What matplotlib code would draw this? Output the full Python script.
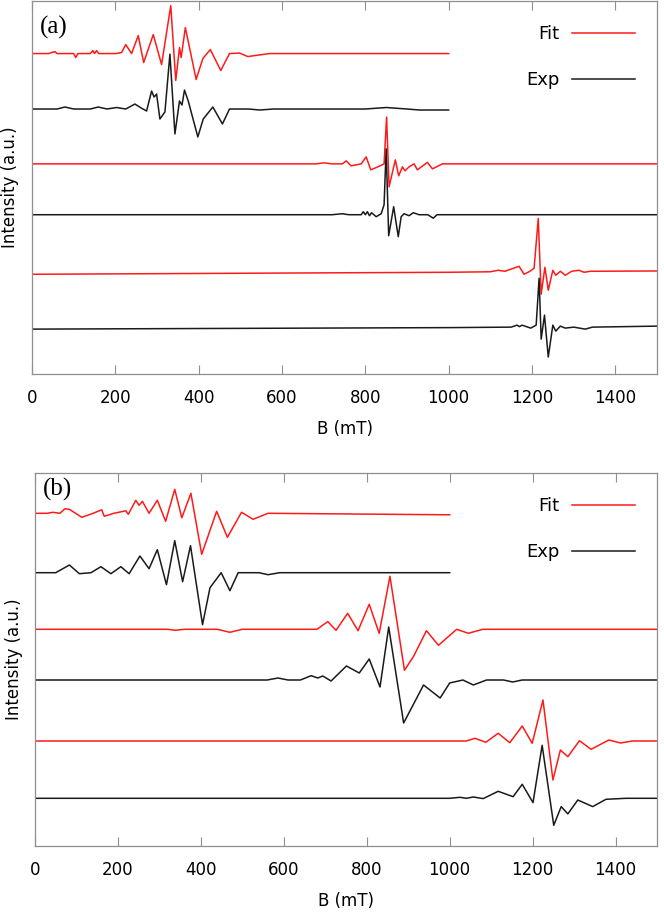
import numpy as np
import matplotlib
matplotlib.use('Agg')
import matplotlib.pyplot as plt

# ---- data (field in mT, signal in arbitrary units) ----
# panel (a)
a_fit1_x = [0, 40, 55, 60, 100, 105, 110, 140, 146, 150, 155, 160, 200, 215, 225, 239, 255, 268, 291, 311,
            333, 345, 354, 358, 368, 394, 410, 428, 453, 474, 498, 518, 570, 1000]
a_fit1_y = [0, 0, 2, 0, 0, -4, 0, 0, 3, 0, 3, 0, 0, 1, 9, 0, 18, -9, 19, -11,
            48, -27, 6, -4, 26, -26, -5, 4, -17, 0, 0.5, -3, 0, 0]
a_exp1_x = [0, 60, 79, 100, 140, 159, 180, 203, 225, 247, 262, 275, 287, 293, 299, 307, 319, 331, 343, 354,
            360, 366, 375, 398, 411, 434, 457, 474, 520, 546, 580, 800, 850, 900, 930, 1000]
a_exp1_y = [0, 0, 2, 0, 0, 2, 0, 1.5, 0, 5, 1, -2, 18, 12, 15, -10, -3, 55, -25, 8,
            4, 19, 8, -28, -10, 2, -15, 0, 0, -1, 0, 0, 1.5, 0, -1, -1]
a_fit2_x = [0, 680, 702, 720, 745, 754, 766, 790, 802, 813, 830, 845, 851, 857, 872, 880, 889, 895, 905,
            917, 925, 949, 961, 985, 1500]
a_fit2_y = [0, 0, 1, 0, 0, 3, -2, 0, 7, -6, -3, 0, 47, -23, 4, -12, -3, -7, -3,
            0, -6, 1.5, -5, 0, 0]
a_exp2_x = [0, 720, 745, 760, 790, 795, 800, 805, 810, 815, 826, 838, 845, 850, 856, 868, 879, 886, 893,
            905, 915, 929, 950, 963, 972, 1500]
a_exp2_y = [0, 0, 1, 0, 0, 3, 0, 3, -1, 2, -2, 1, 10, 66, -21, 8, -22, -2, 1,
            -1, 2, 0, 0, -3.5, 0, 0]
a_fit3_x = [0, 1000, 1100, 1119, 1135, 1169, 1181, 1195, 1205, 1215, 1222, 1231, 1239, 1250, 1257, 1268,
            1280, 1295, 1313, 1325, 1340, 1500]
a_fit3_y = [-3, -1, -0.5, 1, 0, 5, -3, 0, 3, 53, -23, 4, -19, 1, -4, 0,
            -4, 0, 1, -1, 0, 0.3]
a_exp3_x = [0, 1000, 1150, 1164, 1170, 1176, 1197, 1210, 1217, 1222, 1230, 1239, 1250, 1257, 1268, 1280,
            1300, 1328, 1345, 1500]
a_exp3_y = [-2, -0.5, 0, 2, 0.5, 2, -1, 2, 49, -12, 12, -30, 2, -4, 1, -1,
            0, -2, 0, 1]

# panel (b)
b_fit1_x = [0, 30, 43, 60, 72, 83, 113, 140, 161, 167, 190, 219, 225, 243, 251, 259, 275, 295, 315, 337,
            354, 376, 402, 438, 464, 498, 526, 562, 1000]
b_fit1_y = [0, 0, 1, 0, 4.5, 4, -4, 0, 3.5, -3, 0, 2.5, -1, 13, 8, 12, 0, 13, -8, 24,
            -4.5, 20, -41, 2, -24, 1, -6, 0, -1.5]
b_exp1_x = [0, 50, 83, 107, 135, 159, 183, 207, 227, 253, 275, 295, 317, 337, 356, 375, 404, 422, 449,
            470, 490, 540, 562, 590, 1000]
b_exp1_y = [0, 0, 7.7, -1, 0, 6, -1, 6, -1, 16.7, 4, 23, -12, 32, -9, 27, -52, -15, 0,
            -18, 0, 0, -2, 0, 0]
b_fit2_x = [0, 320, 338, 360, 440, 470, 500, 680, 706, 726, 754, 779, 806, 830, 856, 891, 913, 944, 973,
            1017, 1045, 1080, 1500]
b_fit2_y = [0, 0, -1, 0, 0, -3, 0, 0, 7.7, -1, 16, -1.4, 25, -4, 53, -41, -27, -1.4, -16,
            0, -4, 0, 0]
b_exp2_x = [0, 560, 586, 610, 640, 666, 682, 694, 714, 751, 782, 806, 832, 853, 889, 937, 977, 1000,
            1032, 1057, 1089, 1130, 1152, 1175, 1500]
b_exp2_y = [0, 0, 2, 0, 0, 4.3, 2, 4, -1, 14, 7, 21, -7, 53, -43, -5, -18, -3,
            0, -5, 0, 0, -2, 0, 0]
b_fit3_x = [0, 1040, 1061, 1087, 1117, 1145, 1175, 1199, 1225, 1249, 1267, 1285, 1313, 1341, 1384, 1412,
            1440, 1500]
b_fit3_y = [0, 0, 2.7, -1.3, 7.7, -1.7, 15, -2.3, 41, -39, -9, -15.7, 0.3, -8.3, 1, -2,
            0, 0]
b_exp3_x = [0, 1000, 1025, 1040, 1057, 1081, 1117, 1153, 1175, 1201, 1223, 1251, 1269, 1285, 1309, 1345,
            1377, 1425, 1500]
b_exp3_y = [0, 0, 1, 0, 1.3, -0.3, 7, 1.6, 14, -4.3, 53, -27, -8.3, -15.6, -1.7, -8.3,
            -1, 0, 0]

# vertical stacking offsets, top trace first (fit, exp, fit, exp, fit, exp)
offsets_a = [321.3, 265.7, 210.7, 159.7, 103, 47]
offsets_b = [332.7, 273.3, 216.7, 166, 105, 47.7]

x_ticks = [0, 200, 400, 600, 800, 1000, 1200, 1400]

FIT_COLOR = '#ff1a1a'
EXP_COLOR = '#1a1a1a'
FRAME_COLOR = '#8f8f8f'


def draw_panel(ax, traces, offsets, tag, ytop, tag_y):
    for i, (tx, ty) in enumerate(traces):
        color = FIT_COLOR if i % 2 == 0 else EXP_COLOR
        label = None
        if i == 0:
            label = 'Fit'
        elif i == 1:
            label = 'Exp'
        ax.plot(tx, np.array(ty) + offsets[i], color=color, lw=1.1, label=label,
                solid_joinstyle='round')

    ax.set_xlim(0, 1500)
    ax.set_ylim(0, ytop)
    ax.set_xticks(x_ticks)
    ax.set_yticks([])
    ax.tick_params(axis='x', direction='in', top=True, length=6.5, width=0.8,
                   color=FRAME_COLOR, labelsize=12, pad=11)
    for sp in ax.spines.values():
        sp.set_color(FRAME_COLOR)
        sp.set_linewidth(0.9)

    ax.set_xlabel('B (mT)', fontsize=12, labelpad=9)
    ax.set_ylabel('Intensity (a.u.)', fontsize=12)
    ax.yaxis.set_label_coords(-0.02, 0.5)

    ax.text(0.012, tag_y, tag, transform=ax.transAxes, fontsize=18,
            family='Liberation Serif', va='center', ha='left')

    leg = ax.legend(loc='upper right', bbox_to_anchor=(0.965, 0.935), frameon=False,
                    markerfirst=False, fontsize=13, handlelength=3.5, handletextpad=0.7,
                    labelspacing=1.55, borderaxespad=0, borderpad=0)
    return leg


fig = plt.figure(figsize=(6.64, 9.13), dpi=100)
ax_a = fig.add_axes([32 / 664, 1 - 374 / 913, 625 / 664, 373 / 913])
ax_b = fig.add_axes([35 / 664, 1 - 846 / 913, 622 / 664, 373 / 913])

traces_a = [(a_fit1_x, a_fit1_y), (a_exp1_x, a_exp1_y), (a_fit2_x, a_fit2_y),
            (a_exp2_x, a_exp2_y), (a_fit3_x, a_fit3_y), (a_exp3_x, a_exp3_y)]
traces_b = [(b_fit1_x, b_fit1_y), (b_exp1_x, b_exp1_y), (b_fit2_x, b_fit2_y),
            (b_exp2_x, b_exp2_y), (b_fit3_x, b_fit3_y), (b_exp3_x, b_exp3_y)]

draw_panel(ax_a, traces_a, offsets_a, '(a)', 374, 0.93)
draw_panel(ax_b, traces_b, offsets_b, '(b)', 373, 0.955)

fig.savefig('out.png', dpi=100)
